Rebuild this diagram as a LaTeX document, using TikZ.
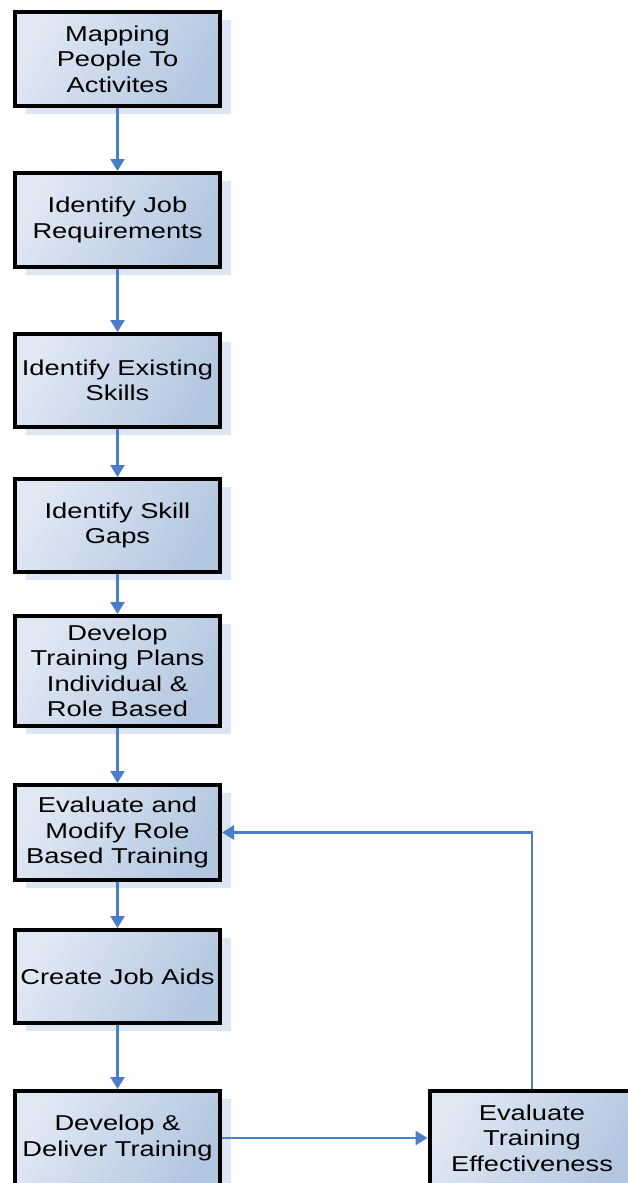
\documentclass[tikz,border=0pt]{standalone}
\usepackage{fontspec}
\setmainfont[FakeStretch=1.27]{Liberation Sans}
\usepackage{tikz}
\usetikzlibrary{arrows.meta,shadows,positioning}
\definecolor{boxlight}{HTML}{E0E8F4}
\definecolor{boxdark}{HTML}{B4C7E0}
\definecolor{shadowblue}{HTML}{DCE5F2}
\definecolor{flowblue}{HTML}{4A7EC8}

\begin{document}
\begin{tikzpicture}[x=1pt,y=-1pt,
        stepbox/.style={draw=black,line width=4pt,minimum width=205pt,minimum height=94pt,inner sep=0pt,align=center,
            top color=boxlight,bottom color=boxdark,shading angle=60,
            drop shadow={shadow xshift=11pt,shadow yshift=-8pt,fill=shadowblue,opacity=1},
            font=\fontsize{21.5}{25.5}\selectfont},
        flow/.style={draw=flowblue,line width=2.5pt,-{Triangle[width=14pt,length=12pt]}}]
        \useasboundingbox (0,0) rectangle (627,1183);

        \node[stepbox] (mapping) at (117.5,59) {Mapping\\People To\\Activites};
        \node[stepbox] (jobreq) at (117.5,220) {Identify Job\\Requirements};
        \node[stepbox,minimum height=93pt] (existing) at (117.5,380.5) {Identify Existing\\Skills};
        \node[stepbox,minimum height=93pt] (gaps) at (117.5,525.5) {Identify Skill\\Gaps};
        \node[stepbox,minimum height=110pt] (plans) at (117.5,671) {Develop\\Training Plans\\Individual \&\\Role Based};
        \node[stepbox,minimum height=95pt] (modify) at (117.5,832.5) {Evaluate and\\Modify Role\\Based Training};
        \node[stepbox,minimum height=93pt] (jobaids) at (117.5,976.5) {Create Job Aids};
        \node[stepbox] (deliver) at (117.5,1138) {Develop \&\\Deliver Training};
        \node[stepbox] (effect) at (532,1138) {Evaluate\\Training\\Effectiveness};

        \draw[flow] (mapping)--(jobreq);
        \draw[flow] (jobreq)--(existing);
        \draw[flow] (existing)--(gaps);
        \draw[flow] (gaps)--(plans);
        \draw[flow] (plans)--(modify);
        \draw[flow] (modify)--(jobaids);
        \draw[flow] (jobaids)--(deliver);
        \draw[flow] (deliver)--(effect);
        \draw[flow] (effect.north) |- (modify.east);
    \end{tikzpicture}
\end{document}
